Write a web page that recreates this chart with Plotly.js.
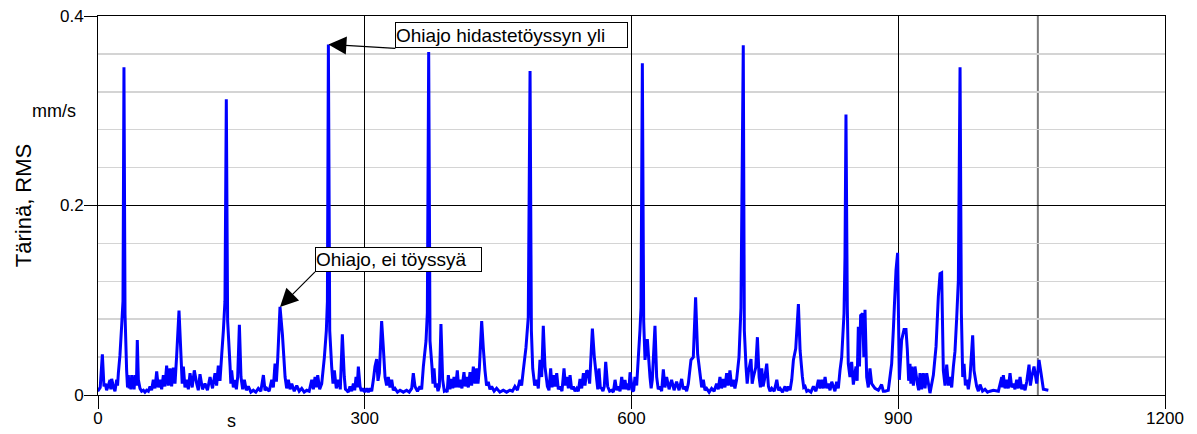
<!DOCTYPE html>
<html>
<head>
<meta charset="utf-8">
<script src="https://cdn.plot.ly/plotly-3.0.1.min.js"></script>
<style>html,body{margin:0;padding:0;background:#fff;}#chart{width:1197px;height:434px;}</style>
</head>
<body>
<div id="chart"></div>
<script>
// Vibration RMS (mm/s) against time (s), in four stretches
const timeA = [0,0.4,2.5,4.9,6.7,8.2,9.7,11.6,13.5,14.4,15.4,17.2,19.1,21.0,22.0,22.9,24.7,26.6,28.1,29.2,30.4,32.2,33.2,34.1,35.0,36.0,37.0,37.9,38.8,39.7,40.6,41.6,43.2,44.2,45.4,47.2,49.1,51.0,52.8,54.7,56.6,58.5,60.3,62.2,64.1,66.0,67.8,69.7,71.6,73.5,75.3,77.2,79.1,81.0,82.8,84.7,86.6,88.5,91.1,93.4,94.7,96.0,97.8,99.7,101.6,103.5,105.9,108.3,111.0,112.8,114.7,117.5,120.3,123.1,126.0,128.8,131.6,133.4,135.3,137.2,139.1,141.0,142.8,144.3,145.8,148.5,149.4,150.3,152.2,154.1,155.6,157.1,159.0,160.8,162.7,164.6,166.8,169.1,171.9,174.7,177.5,180.3,183.1,186.0,187.8,189.7,192.5,195.4,197.2,199.1,200.6,202.1,204.7,207.4,210.4,212.2,214.1,216.0,217.9,220.7,223.5,226.3,229.1,231.9,234.7,237.5,240.4,242.2,244.1,245.6,247.1,249.3,251.6,254.6,256.8,258.0,259.1,260.6,262.8,264.3,265.8,268.0,270.3,272.5,274.8,277.0,278.3];
const rmsA = [0.005,0.005,0.008,0.043,0.009,0.012,0.005,0.010,0.016,0.006,0.017,0.009,0.004,0.016,0.010,0.023,0.042,0.073,0.099,0.346,0.085,0.026,0.008,0.021,0.007,0.016,0.006,0.021,0.008,0.016,0.006,0.021,0.010,0.058,0.016,0.007,0.004,0.005,0.003,0.005,0.004,0.009,0.005,0.016,0.007,0.025,0.008,0.016,0.006,0.021,0.009,0.031,0.010,0.028,0.009,0.029,0.012,0.042,0.089,0.040,0.012,0.030,0.008,0.016,0.006,0.023,0.008,0.026,0.012,0.005,0.022,0.006,0.012,0.005,0.019,0.007,0.023,0.010,0.031,0.015,0.042,0.068,0.099,0.312,0.078,0.031,0.012,0.026,0.008,0.016,0.006,0.019,0.074,0.019,0.006,0.016,0.005,0.009,0.003,0.005,0.003,0.007,0.004,0.021,0.005,0.007,0.004,0.016,0.008,0.033,0.014,0.038,0.093,0.064,0.019,0.007,0.016,0.006,0.012,0.004,0.010,0.004,0.007,0.003,0.005,0.004,0.016,0.006,0.019,0.008,0.021,0.006,0.012,0.040,0.068,0.099,0.370,0.068,0.030,0.012,0.026,0.007,0.016,0.006,0.064,0.019,0.006];

const timeB = [279.7,281.5,283.4,285.3,287.2,288.7,290.2,291.5,292.8,294.7,296.2,297.7,300.0,302.2,304.0,305.9,307.8,309.7,311.5,313.4,314.9,316.4,319.0,320.9,322.8,324.6,326.5,328.4,330.3,332.1,334.0,336.8,339.7,343.4,347.1,350.0,352.8,354.6,356.5,359.3,362.1,364.0,365.9,368.9,370.4,371.9,373.4,375.6,376.7,377.9,379.4,380.9,382.4,383.9,385.7,387.6,389.5,391.4,392.7,394.0,395.8,397.7,399.0,400.4,402.2,404.1,405.6,407.1,409.3,411.6,413.1,414.6,416.5,418.4,420.2,422.1,424.0,425.9,427.4,428.9,431.5,433.3,435.2,437.0,438.9,440.8,442.7,445.5,448.3,452.0,455.8,459.5,463.3,466.1,468.9,471.7,474.5,476.4,478.3,481.3,483.9,485.9,487.4,488.9,491.1,493.4,495.2,497.1,499.0,500.8,502.7,505.4,507.2,509.1,510.6,512.1,514.0,515.9,517.7,519.6,521.8,524.1,525.6,527.1,529.0,530.9,532.7,534.6,536.5,538.4,540.2,542.1,544.0,545.9,547.7,549.6];
const rmsB = [0.005,0.003,0.009,0.004,0.012,0.005,0.019,0.008,0.030,0.009,0.004,0.007,0.003,0.007,0.003,0.007,0.004,0.016,0.030,0.038,0.015,0.023,0.078,0.050,0.019,0.010,0.019,0.008,0.016,0.005,0.007,0.003,0.005,0.003,0.005,0.003,0.007,0.023,0.009,0.004,0.009,0.006,0.030,0.057,0.087,0.362,0.057,0.030,0.012,0.028,0.008,0.012,0.004,0.009,0.075,0.016,0.004,0.005,0.003,0.021,0.006,0.017,0.007,0.019,0.008,0.026,0.008,0.016,0.007,0.024,0.009,0.019,0.008,0.024,0.010,0.030,0.012,0.028,0.012,0.028,0.078,0.050,0.026,0.010,0.014,0.006,0.009,0.004,0.007,0.003,0.005,0.003,0.005,0.004,0.009,0.005,0.016,0.010,0.026,0.050,0.082,0.342,0.068,0.028,0.010,0.016,0.007,0.037,0.019,0.073,0.030,0.009,0.005,0.028,0.008,0.021,0.009,0.023,0.006,0.009,0.004,0.028,0.010,0.019,0.007,0.021,0.006,0.009,0.004,0.007,0.004,0.017,0.007,0.023,0.010,0.026];

const timeC = [551.4,552.9,554.4,556.0,558.2,560.9,562.1,563.4,564.9,566.4,567.9,569.4,571.0,573.2,575.4,577.7,579.6,581.5,583.3,585.2,587.1,589.0,590.8,592.7,594.2,595.7,597.0,598.4,600.9,602.4,603.9,605.8,607.7,609.5,610.7,612.2,613.7,615.2,617.8,620.8,622.1,623.4,626.4,628.3,630.1,632.0,633.9,635.8,637.6,639.5,642.3,645.1,647.9,650.7,653.5,656.4,658.2,660.1,662.0,663.9,666.9,669.5,672.1,674.4,677.0,678.9,680.8,682.6,684.5,687.3,690.1,692.9,695.7,697.6,699.5,701.3,703.2,705.1,707.0,708.8,710.7,712.6,714.5,716.3,718.2,720.9,723.1,725.7,726.9,728.8,730.1,731.4,734.4,735.7,737.1,739.7,741.6,743.5,745.0,746.5,748.0,749.5,752.1,754.0,755.8,757.7,760.5,763.4,765.2,767.1,769.9,772.7,774.6,776.5,778.3,780.2,782.1,784.7,787.7,789.6,792.2,793.7,795.2,797.1,799.0,801.8,804.6,807.4,810.2,812.0,813.9,815.8,817.7,819.5,821.4,823.3,825.2];
const rmsC = [0.024,0.012,0.040,0.070,0.040,0.016,0.006,0.028,0.008,0.007,0.004,0.009,0.035,0.009,0.004,0.005,0.003,0.016,0.005,0.009,0.004,0.019,0.006,0.016,0.006,0.012,0.005,0.024,0.005,0.004,0.019,0.010,0.040,0.068,0.092,0.350,0.078,0.037,0.059,0.019,0.007,0.016,0.073,0.019,0.006,0.009,0.004,0.027,0.008,0.019,0.006,0.016,0.005,0.014,0.005,0.017,0.006,0.009,0.004,0.012,0.037,0.040,0.103,0.043,0.023,0.008,0.016,0.005,0.007,0.003,0.007,0.004,0.012,0.006,0.019,0.007,0.017,0.008,0.023,0.010,0.026,0.009,0.016,0.007,0.016,0.040,0.092,0.369,0.068,0.030,0.012,0.024,0.038,0.012,0.019,0.029,0.061,0.019,0.008,0.028,0.009,0.016,0.033,0.009,0.004,0.007,0.004,0.016,0.005,0.007,0.003,0.009,0.004,0.009,0.005,0.016,0.037,0.049,0.096,0.047,0.019,0.008,0.009,0.004,0.005,0.003,0.009,0.004,0.016,0.007,0.016,0.007,0.019,0.007,0.012,0.005,0.014];

const timeD = [827.0,828.8,830.7,832.6,834.5,836.4,839.0,840.1,841.2,842.7,843.8,845.7,847.6,849.5,852.5,853.8,855.1,856.4,857.7,860.0,861.3,862.6,864.5,866.3,868.2,870.1,873.8,877.6,879.5,881.3,883.2,885.1,888.8,892.6,894.5,895.6,897.5,899.3,901.2,903.8,906.5,908.7,910.2,911.7,913.2,914.2,915.1,917.0,918.8,921.5,923.0,924.5,926.3,928.2,930.1,932.0,935.7,939.5,942.5,945.1,947.0,948.8,950.7,952.6,954.5,956.4,958.2,960.1,962.0,963.8,965.7,967.6,969.5,971.0,972.5,974.0,975.5,977.0,978.8,980.7,983.7,985.2,988.2,990.1,992.0,994.8,997.6,1000.4,1003.2,1007.0,1012.6,1016.4,1017.3,1018.2,1020.1,1022.0,1023.8,1025.7,1027.6,1029.5,1031.3,1033.2,1035.1,1037.0,1038.8,1040.7,1042.6,1044.5,1047.1,1048.6,1050.1,1052.7,1055.7,1058.3,1060.6,1063.2,1068.8];
const rmsD = [0.009,0.004,0.014,0.007,0.026,0.040,0.086,0.146,0.296,0.093,0.033,0.019,0.035,0.011,0.030,0.015,0.072,0.030,0.084,0.086,0.040,0.090,0.019,0.008,0.028,0.012,0.007,0.005,0.008,0.011,0.004,0.004,0.005,0.033,0.069,0.093,0.132,0.150,0.016,0.058,0.069,0.069,0.048,0.015,0.033,0.012,0.030,0.010,0.030,0.012,0.005,0.023,0.006,0.023,0.007,0.023,0.002,0.021,0.051,0.104,0.128,0.129,0.026,0.010,0.032,0.010,0.019,0.008,0.030,0.046,0.081,0.121,0.346,0.086,0.019,0.033,0.010,0.016,0.006,0.019,0.063,0.026,0.009,0.004,0.011,0.004,0.006,0.003,0.004,0.005,0.004,0.019,0.008,0.021,0.007,0.016,0.007,0.023,0.008,0.012,0.006,0.016,0.007,0.019,0.006,0.011,0.005,0.014,0.032,0.010,0.019,0.030,0.012,0.037,0.023,0.006,0.005];

const xTickVals = [0, 300, 600, 900, 1200];
const xTickText = ['0', '300', '600', '900', '1200'];
const yTickVals = [0, 0.2, 0.4];
const yTickText = ['0', '0.2', '0.4'];
const xUnitLabel = 's';
const yUnitLabel = 'mm/s';
const yTitle = 'Tärinä, RMS';
const noteBump = 'Ohiajo hidastetöyssyn yli';
const noteNoBump = 'Ohiajo, ei töyssyä';

const FONT = 'Liberation Sans, Arial, sans-serif';

const timeS = timeA.concat(timeB, timeC, timeD);
const rmsMmS = rmsA.concat(rmsB, rmsC, rmsD);

// annotation targets taken from the data
let iMax = 0;
rmsMmS.forEach((v, i) => { if (v > rmsMmS[iMax]) iMax = i; });
let iNo = -1;
timeS.forEach((t, i) => { if (t > 195 && t < 215 && (iNo < 0 || rmsMmS[i] > rmsMmS[iNo])) iNo = i; });

const trace = {
  x: timeS, y: rmsMmS, type: 'scatter', mode: 'lines',
  line: {color: '#0000ff', width: 3, simplify: false}, hoverinfo: 'x+y'
};

const layout = {
  width: 1197, height: 434,
  margin: {l: 98, r: 32, t: 16, b: 39},
  paper_bgcolor: '#ffffff', plot_bgcolor: '#ffffff',
  showlegend: false,
  font: {family: FONT, size: 17, color: '#000'},
  xaxis: {
    range: [0, 1200], tickvals: xTickVals, ticktext: xTickText,
    ticks: 'outside', ticklen: 13, tickcolor: '#000', tickwidth: 1,
    ticklabelstandoff: -5,
    showgrid: true, gridcolor: '#000', gridwidth: 1,
    showline: true, linecolor: '#000', linewidth: 1, mirror: true,
    zeroline: false, tickfont: {family: FONT, size: 17, color: '#000'}
  },
  yaxis: {
    range: [0, 0.4], tickvals: yTickVals, ticktext: yTickText,
    ticks: 'outside', ticklen: 13, tickcolor: '#000', tickwidth: 1,
    ticklabelstandoff: -3,
    showgrid: true, gridcolor: '#000', gridwidth: 1,
    minor: {dtick: 0.04, tick0: 0, showgrid: true, gridcolor: '#d4d4d4', gridwidth: 1.5, ticks: ''},
    showline: true, linecolor: '#000', linewidth: 1, mirror: true,
    zeroline: false, tickfont: {family: FONT, size: 17, color: '#000'},
    title: {text: yTitle, standoff: 22, font: {family: FONT, size: 22, color: '#000'}}
  },
  shapes: [
    {type: 'line', xref: 'x', yref: 'paper', x0: 1057, x1: 1057, y0: 0, y1: 1,
     line: {color: '#7a7a7a', width: 2}, layer: 'below'}
  ],
  annotations: [
    {xref: 'x', yref: 'paper', x: 150, y: -0.068, text: xUnitLabel, showarrow: false,
     xanchor: 'center', yanchor: 'middle', font: {family: FONT, size: 18, color: '#000'}},
    {xref: 'paper', yref: 'y', x: -0.0185, y: 0.3, text: yUnitLabel, showarrow: false,
     xanchor: 'right', yanchor: 'middle', font: {family: FONT, size: 18, color: '#000'}},
    {xref: 'x', yref: 'y', x: timeS[iMax], y: rmsMmS[iMax], text: noteBump,
     showarrow: true, axref: 'pixel', ayref: 'pixel', ax: 67, ay: 4,
     xanchor: 'left', yanchor: 'bottom', align: 'left', width: 231, height: 24,
     bgcolor: '#fff', bordercolor: '#000', borderwidth: 1, borderpad: 0,
     arrowhead: 2, arrowsize: 3, arrowwidth: 1.2, arrowcolor: '#000',
     font: {family: FONT, size: 19, color: '#000'}},
    {xref: 'x', yref: 'y', x: timeS[iNo], y: rmsMmS[iNo], text: noteNoBump,
     showarrow: true, axref: 'pixel', ayref: 'pixel', ax: 35, ay: -35,
     xanchor: 'left', yanchor: 'bottom', align: 'left', width: 165, height: 23,
     bgcolor: '#fff', bordercolor: '#000', borderwidth: 1, borderpad: 0,
     arrowhead: 2, arrowsize: 3, arrowwidth: 1.2, arrowcolor: '#000',
     font: {family: FONT, size: 19, color: '#000'}}
  ]
};

Plotly.newPlot('chart', [trace], layout, {staticPlot: true, displayModeBar: false});
</script>
</body>
</html>
